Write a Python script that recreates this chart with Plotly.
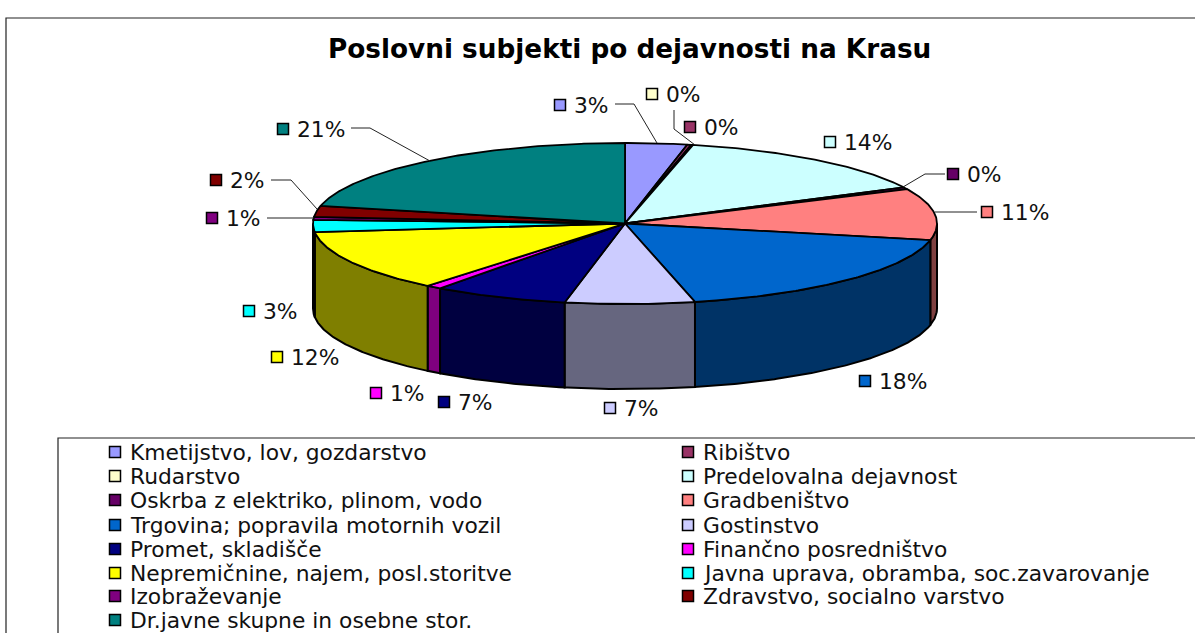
import numpy as np
import plotly.graph_objects as go

TITLE = "Poslovni subjekti po dejavnosti na Krasu"
categories = ["Kmetijstvo, lov, gozdarstvo", "Ribištvo", "Rudarstvo", "Predelovalna dejavnost",
              "Oskrba z elektriko, plinom, vodo", "Gradbeništvo", "Trgovina; popravila motornih vozil",
              "Gostinstvo", "Promet, skladišče", "Finančno posredništvo",
              "Nepremičnine, najem, posl.storitve", "Javna uprava, obramba, soc.zavarovanje",
              "Izobraževanje", "Zdravstvo, socialno varstvo", "Dr.javne skupne in osebne stor."]
shares = [3.2, 0.2, 0.1, 14.1, 0.4, 10.3, 18.1, 6.7, 7.0, 0.8, 12.4, 2.4, 0.6, 2.2, 21.5]
labels = ["3%", "0%", "0%", "14%", "0%", "11%", "18%", "7%", "7%", "1%", "12%", "3%", "1%", "2%", "21%"]
colors = ["#9999FF", "#993366", "#FFFFCC", "#CCFFFF", "#660066", "#FF8080", "#0066CC", "#CCCCFF",
          "#000080", "#FF00FF", "#FFFF00", "#00FFFF", "#800080", "#800000", "#008080"]

# Layout constants (page pixels)
W, H = 1195, 633
CX, CY, RX, RY, DEPTH = 625, 223.5, 312, 80.5, 85
FONT = "DejaVu Sans"
LABEL_SPOTS = [(560, 105), (690, 127), (652, 94), (830, 142), (953, 174), (987, 212), (865, 381), (610, 408),
               (444, 402), (376, 393), (277, 357), (249, 311), (212, 218), (216, 180), (283, 129)]
LEADERS = [[(615, 104), (634, 104), (657, 143)], [(674, 110), (674, 129), (695, 145)],
           [(945, 174), (925, 174), (903, 187)], [(977, 212), (935, 212)],
           [(351, 128), (370, 128), (430, 161)], [(271, 180), (291, 180), (317, 209)], [(267, 218), (314, 218)]]
LEG_X = [115, 688]
LEG_Y = [452, 476, 500, 525, 549, 573, 596, 620]


def darker(hex_color):
    return "#%02X%02X%02X" % tuple(int(hex_color[i:i + 2], 16) // 2 for i in (1, 3, 5))


def arc(a, b, drop=0.0):
    t = np.radians(np.linspace(a, b, max(int(abs(b - a) * 2), 2)))
    return CX + RX * np.sin(t), CY - RY * np.cos(t) + drop


fig = go.Figure()
edges = np.concatenate([[0], np.cumsum(shares)]) * 360 / sum(shares)


def poly(x, y, fill, width=1.8):
    fig.add_trace(go.Scatter(x=x, y=y, mode="lines", fill="toself", fillcolor=fill,
                             line=dict(color="#000000", width=width), hoverinfo="skip", showlegend=False))


# side walls for the front half of the pie
for a, b, c in zip(edges[:-1], edges[1:], colors):
    lo, hi = max(a, 90), min(b, 270)
    if lo < hi:
        tx, ty = arc(lo, hi)
        bx, by = arc(hi, lo, DEPTH)
        poly(np.r_[tx, bx, tx[0]], np.r_[ty, by, ty[0]], darker(c), 2)

# top faces
for a, b, c in zip(edges[:-1], edges[1:], colors):
    tx, ty = arc(a, b)
    poly(np.r_[CX, tx, CX], np.r_[CY, ty, CY], c, 1.8)

# leader lines
for pts in LEADERS:
    fig.add_trace(go.Scatter(x=[p[0] for p in pts], y=[p[1] for p in pts], mode="lines",
                             line=dict(color="#222222", width=1), hoverinfo="skip", showlegend=False))

# data-label swatches and text
fig.add_trace(go.Scatter(x=[p[0] for p in LABEL_SPOTS], y=[p[1] for p in LABEL_SPOTS], mode="markers",
                         marker=dict(symbol="square", size=11, color=colors, line=dict(color="#000000", width=1.5)),
                         hoverinfo="skip", showlegend=False))
annotations = [dict(x=sx + 12, y=sy, text=t, xanchor="left", yanchor="middle", showarrow=False,
                    font=dict(family=FONT, size=21.8, color="#111111"))
               for (sx, sy), t in zip(LABEL_SPOTS, labels)]

# two-column legend
leg_xs = [LEG_X[i % 2] for i in range(len(categories))]
leg_ys = [LEG_Y[i // 2] for i in range(len(categories))]
fig.add_trace(go.Scatter(x=leg_xs, y=leg_ys, mode="markers",
                         marker=dict(symbol="square", size=11, color=colors, line=dict(color="#000000", width=1.5)),
                         hoverinfo="skip", showlegend=False))
annotations += [dict(x=x + 13, y=y, text=c, xanchor="left", yanchor="middle", showarrow=False,
                     font=dict(family=FONT, size=21.8, color="#111111"))
                for x, y, c in zip(leg_xs, leg_ys, categories)]
annotations.append(dict(x=629, y=49, text=TITLE, xanchor="center", yanchor="middle", showarrow=False,
                        font=dict(family=FONT, size=26.3, color="#000000", weight="bold")))

shapes = [
    dict(type="path", path="M 6 640 L 6 18 L 1200 18", line=dict(color="#222222", width=1.2)),
    dict(type="path", path="M 58 640 L 58 438 L 1200 438", line=dict(color="#222222", width=1.2)),
]

fig.update_layout(width=W, height=H, margin=dict(l=0, r=0, t=0, b=0), paper_bgcolor="white",
                  plot_bgcolor="white", annotations=annotations, shapes=shapes, showlegend=False,
                  xaxis=dict(range=[0, W], visible=False, fixedrange=True),
                  yaxis=dict(range=[H, 0], visible=False, fixedrange=True))
fig.write_html("out.html", config=dict(displayModeBar=False),
               post_script="document.body.style.margin='0';document.body.style.overflow='hidden';")
